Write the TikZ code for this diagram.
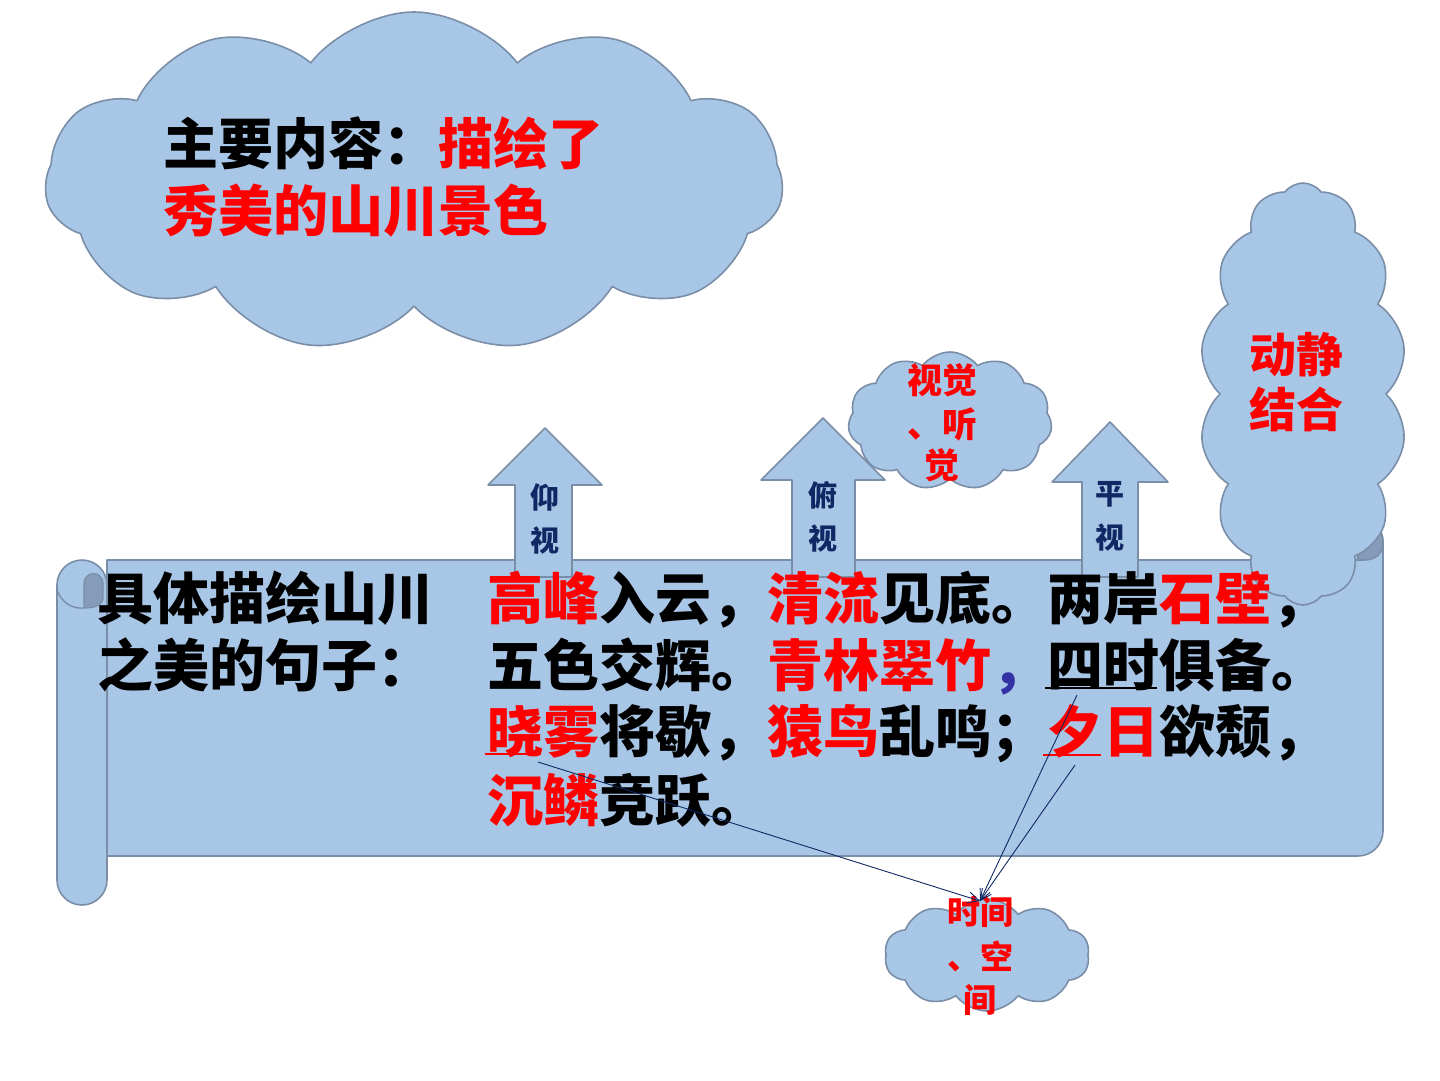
\documentclass[tikz,border=0pt]{standalone}
\usepackage{fontspec}
\newfontfamily\cjk{Noto Sans CJK SC}
\usetikzlibrary{shapes.symbols,arrows.meta}
\definecolor{cfill}{RGB}{168,198,230}
\definecolor{cline}{RGB}{122,142,168}
\definecolor{cdark}{RGB}{132,156,186}
\definecolor{navy}{RGB}{16,40,100}
\definecolor{cblue}{RGB}{50,50,165}
\definecolor{cred}{RGB}{255,0,0}
\begin{document}
\begin{tikzpicture}[x=1pt,y=-1pt,
  shapebox/.style={fill=cfill,draw=cline,line width=1.6pt,line join=round},
  cloudbox/.style={shapebox,cloud,cloud puffs=#1,cloud puff arc=105,inner sep=0},
  bigtxt/.style={inner sep=0,anchor=west,text height=49pt,text depth=7pt,font=\cjk\bfseries\fontsize{56}{60}\selectfont},
  cltxt/.style={inner sep=0,anchor=center,text=cred,font=\cjk\bfseries\fontsize{#1}{#1}\selectfont,text height=0.88*#1pt,text depth=0.12*#1pt},
  arrtxt/.style={inner sep=0,anchor=center,text=navy,font=\cjk\bfseries\fontsize{29}{29}\selectfont,text height=25.5pt,text depth=3.5pt},
  conn/.style={draw=navy,line width=0.9pt,-{Straight Barb[length=11pt,width=11pt]}}
]
\useasboundingbox (0,0) rectangle (1440,1080);

% big cloud
\node[cloudbox=11,aspect=2.17,minimum width=738pt,minimum height=340pt] (bigcloud) at (414,182) {};

% scroll body
\path[shapebox] (107,560) -- (1333,560) -- (1333,542) arc[start angle=180,end angle=360,radius=25] -- (1383,831) arc[start angle=0,end angle=90,radius=25] -- (107,856) -- cycle;
\path[shapebox,fill=cdark] (1358,560) -- (1358,517) arc[start angle=-90,end angle=0,radius=25] .. controls (1383,555) and (1374,560) .. (1364,560) -- cycle;
\draw[cline,line width=1.6pt] (1333,560) -- (1358,560);
% left roll
\path[shapebox] (57,585) arc[start angle=180,end angle=360,radius=25] -- (107,880) arc[start angle=0,end angle=180,radius=25] -- cycle;
\draw[cline,line width=1.4pt] (57,590) .. controls (62,603) and (72,609) .. (84,608);
\path[shapebox,fill=cdark,line width=1.2pt] (84,608) -- (84,583) arc[start angle=180,end angle=360,radius=9.5] -- (103,598) .. controls (103,605) and (95,608) .. (84,608) -- cycle;

% block arrows
\path[shapebox] (515,577) -- (515,485) -- (488,485) -- (545,428) -- (602,485) -- (572,485) -- (572,577) -- cycle;
\path[shapebox] (792,577) -- (792,480) -- (761,480) -- (823,418) -- (885,480) -- (855,480) -- (855,577) -- cycle;
\path[shapebox] (1082,577) -- (1082,482) -- (1052,482) -- (1110,422) -- (1168,482) -- (1138,482) -- (1138,577) -- cycle;
\node[arrtxt] (a1a) at (545,497) {仰};
\node[arrtxt] (a1b) at (545,540) {视};
\node[arrtxt] (a2a) at (823,495) {俯};
\node[arrtxt] (a2b) at (823,538) {视};
\node[arrtxt] (a3a) at (1110,493) {平};
\node[arrtxt] (a3b) at (1110,537) {视};

% small clouds
\node[cloudbox=11,aspect=1.48,minimum width=204pt,minimum height=138pt] (sjcloud) at (950,421) {};
\node[cloudbox=14,aspect=0.49,minimum width=207pt,minimum height=422pt] (djcloud) at (1303,394) {};
\node[cloudbox=10,aspect=1.83,minimum width=205pt,minimum height=112pt] (tcloud) at (987,955) {};

% cloud texts
\node[bigtxt,font=\cjk\bfseries\fontsize{55}{60}\selectfont] (main1) at (163,143) {主要内容：\textcolor{cred}{描绘了}};
\node[bigtxt,font=\cjk\bfseries\fontsize{55}{60}\selectfont,text=cred] (main2) at (163,210) {秀美的山川景色};
\node[cltxt=35] (sj1) at (942,380) {视觉};
\node[cltxt=35] (sj2) at (942,424) {、听};
\node[cltxt=35] (sj3) at (942,465) {觉};
\node[cltxt=47] (dj1) at (1296,355) {动静};
\node[cltxt=47] (dj2) at (1296,410) {结合};
\node[cltxt=33] (t1) at (980,912) {时间};
\node[cltxt=33] (t2) at (980,957) {、空};
\node[cltxt=33] (t3) at (980,1000) {间};

% body texts
\node[bigtxt] (l1) at (97,598) {具体描绘山川};
\node[bigtxt] (l2) at (97,665) {之美的句子：};
\node[bigtxt] (r1) at (487,598) {\textcolor{cred}{高峰}入云，\textcolor{cred}{清流}见底。两岸\textcolor{cred}{石壁}，};
\node[bigtxt] (r2) at (487,665) {五色交辉。\textcolor{cred}{青林翠竹}\textcolor{cblue}{，}四时俱备。};
\node[bigtxt] (r3) at (487,731) {\textcolor{cred}{晓雾}将歇，\textcolor{cred}{猿鸟}乱鸣；\textcolor{cred}{夕日}欲颓，};
\node[bigtxt] (r4) at (487,800) {\textcolor{cred}{沉鳞}竞跃。};

% underlines
\draw[cred,line width=1.5pt] (485,754) -- (541,754);
\draw[black,line width=1.5pt] (1045,688) -- (1157,688);
\draw[cred,line width=1.5pt] (1043,755) -- (1101,755);

% connectors
\coordinate (c1) at (538,762);
\coordinate (c2) at (1077,695);
\coordinate (c3) at (1075,765);
\coordinate (tc) at (980,901);
\draw[conn] (c1) -- (tc);
\draw[conn] (c2) -- (tc);
\draw[conn] (c3) -- (tc);
\end{tikzpicture}
\end{document}
